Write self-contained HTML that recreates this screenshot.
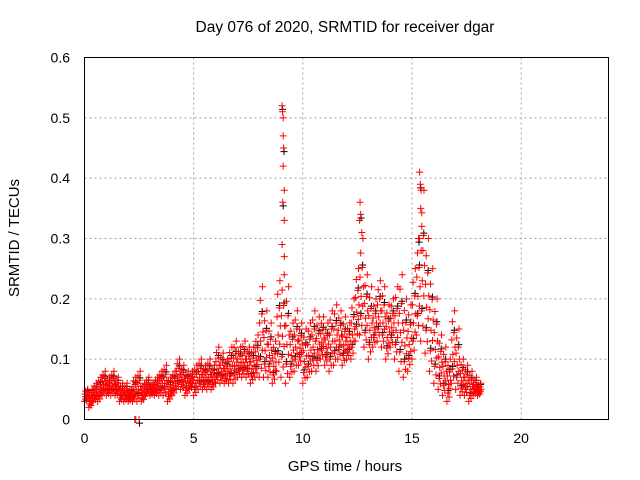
<!DOCTYPE html>
<html><head><meta charset="utf-8"><style>
html,body{margin:0;padding:0;background:#fff;}
svg{display:block;font-family:"Liberation Sans",sans-serif;}
</style></head><body>
<svg id="chart" width="640" height="480">
<text x="345" y="32" text-anchor="middle" font-size="15.5">Day 076 of 2020, SRMTID for receiver dgar</text>
<text x="345" y="471" text-anchor="middle" font-size="15">GPS time / hours</text>
<text transform="translate(19,238) rotate(-90)" text-anchor="middle" font-size="15">SRMTID / TECUs</text>
<g id="grid"></g>
<g id="black"></g>
<g id="red"></g>
<rect x="84.5" y="57.5" width="524" height="362" fill="none" stroke="#000"/>
<g id="ticks"></g>
</svg>
<script>
const times=[0,0.2,0.4,0.6,0.8,1,1.2,1.4,1.6,1.8,2,2.2,2.4,2.6,2.8,3,3.2,3.4,3.6,3.8,4,4.2,4.4,4.6,4.8,5,5.2,5.4,5.6,5.8,6,6.2,6.4,6.6,6.8,7,7.2,7.4,7.6,7.8,8,8.2,8.4,8.6,8.8,9,9.2,9.4,9.6,9.8,10,10.2,10.4,10.6,10.8,11,11.2,11.4,11.6,11.8,12,12.2,12.4,12.6,12.8,13,13.2,13.4,13.6,13.8,14,14.2,14.4,14.6,14.8,15,15.2,15.4,15.6,15.8,16,16.2,16.4,16.6,16.8,17,17.2,17.4,17.6,17.8,18];
const lowVals=[.03,.02,.03,.03,.04,.04,.04,.04,.03,.03,.03,.03,.03,.03,.04,.04,.04,.04,.04,.03,.04,.05,.05,.04,.05,.04,.05,.05,.05,.05,.06,.06,.06,.06,.06,.07,.07,.07,.06,.07,.07,.07,.07,.06,.08,.07,.06,.07,.08,.09,.06,.07,.08,.08,.1,.09,.08,.09,.1,.09,.1,.1,.13,.14,.12,.1,.12,.13,.12,.1,.12,.1,.08,.07,.08,.1,.14,.13,.11,.08,.06,.05,.04,.03,.06,.05,.04,.04,.03,.04,.04];
const highVals=[.05,.05,.06,.07,.08,.07,.08,.07,.06,.06,.05,.07,.08,.06,.07,.06,.07,.08,.09,.07,.08,.1,.09,.08,.08,.09,.1,.09,.1,.09,.12,.11,.1,.12,.13,.12,.13,.12,.12,.14,.22,.18,.16,.13,.23,.24,.22,.16,.18,.16,.15,.16,.18,.17,.17,.16,.18,.19,.18,.17,.16,.2,.25,.3,.24,.22,.2,.23,.22,.19,.2,.22,.24,.2,.19,.25,.3,.38,.3,.25,.2,.14,.12,.1,.18,.15,.1,.09,.08,.07,.06];
const spikeTimes=[9.05,9.07,9.1,9.1,9.12,9.1,9.15,9.15,9.08,9.05,9.15,12.62,12.65,12.6,12.7,15.35,15.38,15.42,15.4,15.45,15.3,15.5,2.3,2.35,2.5];
const spikeVals=[.52,.51,.5,.47,.45,.42,.38,.33,.36,.29,.27,.36,.34,.33,.31,.41,.39,.38,.35,.32,.3,.28,0,0,0];
const xTicks=[0,5,10,15,20];
const yTicks=[0,0.1,0.2,0.3,0.4,0.5,0.6];
const yTickLabels=["0","0.1","0.2","0.3","0.4","0.5","0.6"];
const NS="http://www.w3.org/2000/svg";
const X=v=>84.5+v*524/24, Y=v=>419.5-v*362/0.6;
const grid=document.getElementById('grid'),ticks=document.getElementById('ticks');
function mk(tag,attrs,parent){const e=document.createElementNS(NS,tag);for(const k in attrs)e.setAttribute(k,attrs[k]);parent.appendChild(e);return e;}
xTicks.forEach(t=>{
  if(t>0){const g=mk('line',{x1:X(t),x2:X(t),y1:57.5,y2:419.5,stroke:'#a0a0a0','stroke-dasharray':'2,3'},grid);
  
  }
  const l=mk('text',{x:X(t),y:443,'text-anchor':'middle','font-size':'14'},ticks);l.textContent=t;
  
  
});
yTicks.forEach((t,i)=>{
  if(t>0&&t<0.6){const g=mk('line',{x1:84.5,x2:608.5,y1:Y(t),y2:Y(t),stroke:'#a0a0a0','stroke-dasharray':'2,3'},grid);
  
  }
  const l=mk('text',{x:70,y:Y(t)+5,'text-anchor':'end','font-size':'14'},ticks);l.textContent=yTickLabels[i];
  
  
});
function plus(t,v,parent,color){
  const x=X(t),y=Y(v);
  const p=mk('path',{d:`M${x-3.5},${y}h7M${x},${y-3.5}v7`,stroke:color,'stroke-width':1,fill:'none'},parent);
  
  
}
const red=document.getElementById('red'),black=document.getElementById('black');
const fracs=[0,0.1,0.2,0.3,0.4,0.5,0.6,0.7,0.85,1];
const offs=[0,0.1,0.04,0.14,0.07,0.17,0.02,0.12,0.05,0.15];
times.forEach((t,i)=>{
  const lo=lowVals[i],hi=highVals[i];
  fracs.forEach((f,j)=>{
    const tt=t+offs[j];
    const v=lo+(hi-lo)*f;
    if(j%5===2)plus(tt+0.02,v+0.004,black,'#000');
    plus(tt,v,red,'#f00');
  });
});
spikeTimes.forEach((t,i)=>{if(i%4===0)plus(t+0.02,spikeVals[i]-0.006,black,'#000');plus(t,spikeVals[i],red,'#f00');});
</script>
</body></html>
